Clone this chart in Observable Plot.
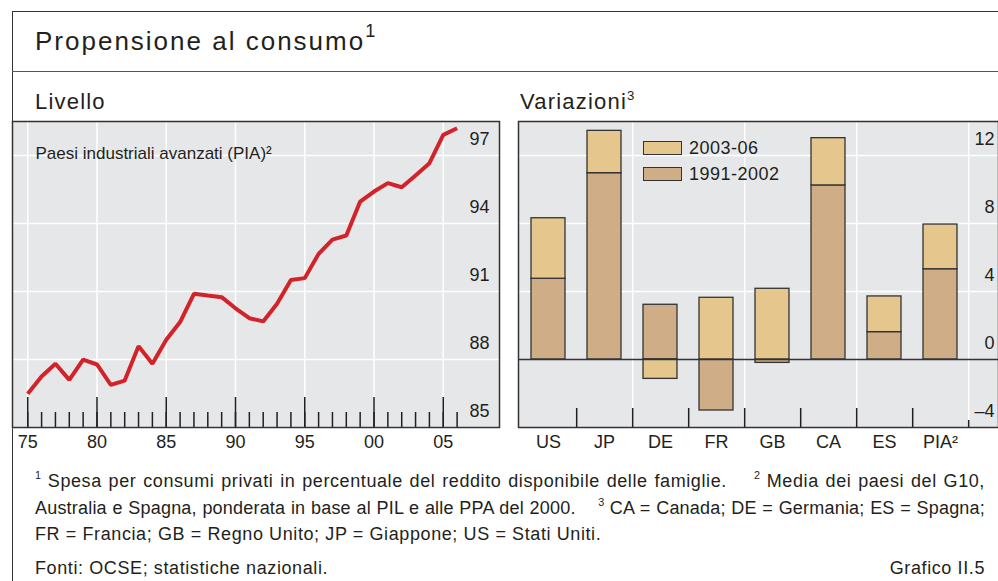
<!DOCTYPE html>
<html>
<head>
<meta charset="utf-8">
<script src="https://cdn.jsdelivr.net/npm/d3@7"></script>
<script src="https://cdn.jsdelivr.net/npm/@observablehq/plot@0.6"></script>
<style>
  html, body { margin: 0; padding: 0; background: #fff; }
  body { width: 998px; height: 581px; overflow: hidden; position: relative;
         font-family: "Liberation Sans", Arial, Helvetica, sans-serif; color: #231f20; }
  .abs { position: absolute; white-space: nowrap; }
  .frame { left: 12px; top: 11px; width: 990px; height: 580px; border-left: 1.5px solid #333; border-top: 1.5px solid #333; }
  .rule { left: 12px; top: 71px; width: 990px; height: 0; border-top: 1.5px solid #555; }
  .title { left: 35px; top: 26px; font-size: 26px; line-height: 30px; letter-spacing: 2px; }
  .sub { top: 89px; font-size: 22px; line-height: 26px; letter-spacing: 1.2px; }
  sup { font-size: 60%; vertical-align: 0; position: relative; top: -0.7em; letter-spacing: 0; }
  .title sup { font-size: 70%; }
  .note { left: 35px; font-size: 18px; line-height: 20px; letter-spacing: 0.6px; }
  .just { width: 950px; text-align: justify; text-align-last: justify; white-space: normal; }
  .legsw { width: 39px; height: 14px; border: 1.3px solid #333; box-sizing: border-box; }
  .legtx { font-size: 18px; line-height: 20px; letter-spacing: 0.5px; }
  #left, #right { position: absolute; }
  svg { overflow: visible; }
</style>
</head>
<body>
<div class="abs frame"></div>
<div class="abs rule"></div>
<div class="abs title">Propensione al consumo<sup>1</sup></div>
<div class="abs sub" style="left:35px">Livello</div>
<div class="abs sub" style="left:520px">Variazioni<sup>3</sup></div>
<div id="left"></div>
<div id="right"></div>
<div class="abs" style="left:643px; top:141px;"><div class="legsw" id="sw1"></div></div>
<div class="abs legtx" style="left:689px; top:138px;" id="lt1"></div>
<div class="abs" style="left:643px; top:167px;"><div class="legsw" id="sw2"></div></div>
<div class="abs legtx" style="left:689px; top:164px;" id="lt2"></div>
<div class="abs note just" style="top:471px"><sup>1</sup>&nbsp;Spesa per consumi privati in percentuale del reddito disponibile delle famiglie.&nbsp;&nbsp;&nbsp; <sup>2</sup>&nbsp;Media dei paesi del G10,</div>
<div class="abs note just" style="top:498px; letter-spacing:0.2px">Australia e Spagna, ponderata in base al PIL e alle PPA del 2000.&nbsp;&nbsp;&nbsp; <sup>3</sup>&nbsp;CA = Canada; DE = Germania; ES = Spagna;</div>
<div class="abs note" style="top:524px">FR = Francia; GB = Regno Unito; JP = Giappone; US = Stati Uniti.</div>
<div class="abs note" style="top:558px">Fonti: OCSE; statistiche nazionali.</div>
<div class="abs note" style="top:558px; left:auto; right:13px;">Grafico II.5</div>
<script>
// ---- Data: left panel (level) ----
const years = [1975, 1976, 1977, 1978, 1979, 1980, 1981, 1982, 1983, 1984, 1985, 1986, 1987, 1988, 1989, 1990,
               1991, 1992, 1993, 1994, 1995, 1996, 1997, 1998, 1999, 2000, 2001, 2002, 2003, 2004, 2005, 2006];
const propensity = [86.49, 87.25, 87.81, 87.10, 87.99, 87.78, 86.88, 87.07, 88.59, 87.81, 88.87, 89.65, 90.90, 90.82, 90.75, 90.26,
                    89.82, 89.68, 90.46, 91.51, 91.59, 92.66, 93.29, 93.47, 94.97, 95.41, 95.78, 95.60, 96.12, 96.66, 97.91, 98.20];
const levelTicks = [85, 88, 91, 94, 97];
const yearLabelTicks = [1975, 1980, 1985, 1990, 1995, 2000, 2005];
const levelNote = "Paesi industriali avanzati (PIA)²";

// ---- Data: right panel (changes) ----
const countries = ["US", "JP", "DE", "FR", "GB", "CA", "ES", "PIA²"];
const change1991_2002 = [4.75, 10.96, 3.22, -3.0, -0.2, 10.24, 1.61, 5.31];
const change2003_06 = [3.56, 2.49, -1.14, 3.63, 4.16, 2.78, 2.10, 2.63];
const periods = ["1991-2002", "2003-06"];
const changeTicks = [-4, 0, 4, 8, 12];

const periodColors = ["#cfad86", "#e5c78e"];
const ink = "#231f20";
const bg = "#e6e7e8";
const font = "'Liberation Sans', Arial, Helvetica, sans-serif";

// ---------- Left chart ----------
const levelData = years.map((y, i) => ({year: y, value: propensity[i]}));
const left = Plot.plot({
  width: 500, height: 350,
  marginLeft: 10, marginRight: 3, marginTop: 10, marginBottom: 34,
  style: {fontFamily: font, fontSize: "18px", color: ink, background: "transparent", overflow: "visible"},
  x: {domain: [1973.9, 2009.06], label: null, axis: null},
  y: {domain: [85, 98.5], axis: null},
  marks: [
    Plot.frame({fill: bg, stroke: null}),
    Plot.gridY(levelTicks, {stroke: "#fff", strokeOpacity: 1, strokeWidth: 1.5}),
    Plot.gridX(yearLabelTicks, {stroke: "#fff", strokeOpacity: 1, strokeWidth: 1.5}),
    Plot.ruleX(years, {y1: 85, y2: 85 + 15 / 22.67, stroke: ink, strokeWidth: 1.5}),
    Plot.ruleX(yearLabelTicks, {y1: 85, y2: 85 + 30 / 22.67, stroke: ink, strokeWidth: 1.5}),
    Plot.line(levelData, {x: "year", y: "value", stroke: "#d2232a", strokeWidth: 4, strokeLinejoin: "miter", strokeLinecap: "butt"}),
    Plot.text(levelTicks, {y: d => d, frameAnchor: "right", dx: -10, dy: -16, textAnchor: "end", text: d => String(d), fill: ink, fontSize: 18}),
    Plot.text([levelNote], {frameAnchor: "top-left", dx: 23, dy: 25, text: d => d, fill: ink, fontSize: 17, textAnchor: "start", letterSpacing: "1px"}),
    Plot.text(yearLabelTicks, {x: d => d, frameAnchor: "bottom", dy: 20, text: d => String(d).slice(2), fill: ink, fontSize: 18}),
    Plot.frame({stroke: "#333", strokeWidth: 1.5})
  ]
});
const leftDiv = document.getElementById("left");
leftDiv.style.left = "2px"; leftDiv.style.top = "111px";
leftDiv.appendChild(left);

// ---------- Right chart ----------
const changeData = [];
periods.forEach(p => {
  countries.forEach((c, i) => {
    changeData.push({country: c, period: p, value: p === "1991-2002" ? change1991_2002[i] : change2003_06[i]});
  });
});
const boundaryMajor = countries.filter((c, i) => i % 2 === 1); // JP, FR, CA, PIA
const boundaryTicks = countries.slice(0, countries.length - 1);
const lastCountry = [countries[countries.length - 1]];
const step = 451 / 8;
const right = Plot.plot({
  width: 490, height: 350,
  marginLeft: 10, marginRight: 0, marginTop: 10, marginBottom: 34,
  style: {fontFamily: font, fontSize: "18px", color: ink, background: "transparent", overflow: "visible"},
  x: {type: "band", domain: countries, range: [10, 461], paddingInner: 0.4, paddingOuter: 0.2, axis: null},
  y: {domain: [-4, 14], axis: null},
  color: {domain: periods, range: periodColors},
  marks: [
    Plot.frame({fill: bg, stroke: null}),
    Plot.gridY(changeTicks.filter(d => d > 0), {stroke: "#fff", strokeOpacity: 1, strokeWidth: 1.5}),
    Plot.ruleX(boundaryMajor, {x: d => d, dx: step / 2, stroke: "#fff", strokeWidth: 1.5}),
    Plot.barY(changeData, {x: "country", y: "value", fill: "period", stroke: "#333", strokeWidth: 1.3}),
    Plot.ruleY([0], {stroke: "#333", strokeWidth: 1.3}),
    Plot.ruleX(boundaryTicks, {x: d => d, dx: step / 2, y1: -4, y2: -4 + 19 / 17, stroke: ink, strokeWidth: 1.5}),
    Plot.ruleX(lastCountry, {x: d => d, dx: step / 2, y1: -4, y2: -4 + 7 / 17, stroke: ink, strokeWidth: 1.5}),
    Plot.text(changeTicks, {y: d => d, frameAnchor: "right", dx: -4, dy: -16, textAnchor: "end", text: d => d < 0 ? "–" + Math.abs(d) : String(d), fill: ink, fontSize: 18}),
    Plot.text(countries, {x: d => d, frameAnchor: "bottom", dy: 20, text: d => d, fill: ink, fontSize: 18}),
    Plot.frame({stroke: "#333", strokeWidth: 1.5})
  ]
});
const rightDiv = document.getElementById("right");
rightDiv.style.left = "508px"; rightDiv.style.top = "111px";
rightDiv.appendChild(right);

// legend (HTML, from the same colour/period arrays)
document.getElementById("sw1").style.background = periodColors[1];
document.getElementById("lt1").textContent = periods[1];
document.getElementById("sw2").style.background = periodColors[0];
document.getElementById("lt2").textContent = periods[0];
</script>
</body>
</html>
